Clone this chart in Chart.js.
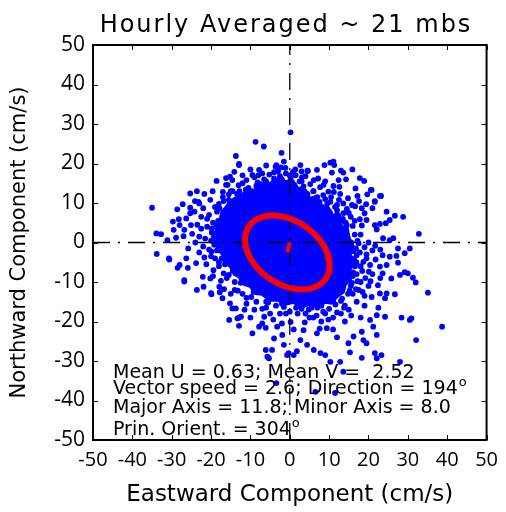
<!DOCTYPE html>
<html lang="en">
<head>
<meta charset="UTF-8">
<title>Hourly Averaged ~ 21 mbs</title>
<script src="https://cdn.jsdelivr.net/npm/chart.js"></script>
<style>
  body { margin: 0; background: #fff; }
</style>
</head>
<body>
<canvas id="scatter" width="506" height="512"></canvas>
<script>
// hourly current components (cm/s): eastward u, northward v
const eastU = [
  // upper left
  -13.7,-12.9,-14.1,-16.2,-15.2,-18.6,-16.2,-19.6,-23.6,-25.3,-35.0,-28.6,-27.2,-24.1,-23.2,-25.3,-22.0,-25.3,-28.2,-29.7,
  -28.0,-29.5,-26.8,-33.9,-32.7,-31.1,-28.9,-27.0,-33.8,-30.7,-26.3,-28.0,-21.7,-19.9,-26.3,-25.1,-24.2,-23.0,-21.7,-14.6,
  -15.8,-9.5,-7.8,-3.6,
  // top
  0.2,-8.7,-6.6,-2.1,-12.9,-3.4,-2.3,2.7,8.8,10.3,11.3,10.7,13.0,6.9,4.5,1.4,0.8,3.1,6.1,8.6,
  11.1,12.6,9.8,12.8,7.6,10.3,13.6,12.0,13.6,-1.1,11.1,4.6,
  // right
  15.9,13.6,14.3,17.8,18.9,20.8,19.7,23.2,17.2,17.6,19.4,21.6,16.6,18.3,21.0,24.6,26.7,28.8,25.4,24.4,
  22.9,14.5,17.8,19.5,21.6,22.1,32.8,26.3,25.4,23.7,30.5,29.2,27.5,27.1,25.4,23.6,27.5,24.6,22.9,19.5,
  20.4,18.7,17.0,15.7,22.9,20.6,21.6,18.0,20.0,19.0,21.0,
  // lower right
  35.1,38.7,32.1,28.4,30.5,30.9,30.0,31.3,32.0,29.2,28.0,25.8,24.6,26.7,22.9,24.2,22.5,24.2,22.1,20.4,
  21.2,22.1,18.7,19.5,18.3,16.2,14.9,15.3,18.3,21.6,23.3,22.1,28.0,17.0,18.0,20.0,16.0,17.0,19.0,15.0,
  13.0,11.0,18.0,14.0,21.0,23.0,19.0,
  // bottom
  3.5,6.9,9.4,-3.2,0.2,-1.9,-4.0,-7.0,-7.8,-9.5,2.7,4.4,-1.5,6.0,8.0,11.0,12.0,-5.0,-9.0,-10.0,
  2.0,5.0,6.1,7.8,9.0,10.3,12.8,-0.7,1.0,1.8,-6.1,-5.7,-5.3,6.5,-3.4,11.5,13.6,-0.3,-4.5,-6.1,
  // lower left
  -12.9,-13.7,-28.5,-25.9,-26.8,-23.6,-21.9,-19.9,-22.1,-20.2,-19.4,-17.5,-17.9,-16.7,-17.1,-15.2,-14.6,-15.4,-13.3,-12.9,
  -12.4,-30.6,-26.8,-20.0,
  // edge of the dense centre
  -22.0,-23.0,-22.5,-21.0,-19.0,-17.0,-15.0,-12.0,-8.0,-4.0,0.0,3.0,6.0,9.0,12.0,15.0,16.5,18.0,17.5,14.0,
  9.0,4.0,-1.0,-6.0,-11.0,-14.0,-16.0,-18.0,-20.0,
  -13.0,-11.0,-10.5,-9.0,-8.2,-7.0,-6.5,-5.2,-4.0,-3.0,-2.5,-1.0,0.2,1.5,2.5,3.5,4.0,5.2,-12.0,-10.0,
  -6.0,-1.5,3.0,-14.5,-12.8,
  6.0,7.0,5.8,8.5,9.5,10.5,11.5,12.5,8.2,10.0,12.0,13.5,14.5,15.5,14.2,16.0,16.5,15.8,14.8,11.2,
  9.0,7.2,12.4,16.7,19.0,17.2,18.3,7.7,4.5,
  16.8,17.5,16.3,17.8,16.6,18.4,16.0,17.2,15.5,16.8,19.2,20.1,19.5,21.8,20.5,14.8,18.5,20.8,22.4,23.6,
  21.7,23.0,
  13.0,11.6,13.8,10.0,12.0,8.5,7.0,6.8,4.8,3.0,3.8,1.6,0.0,-1.5,-2.5,-3.5,-4.2,-6.0,-7.0,-6.5,
  -8.5,-9.8,-11.0,-12.0,-11.5,1.0,-2.0,9.8,15.6,7.6,
  -14.0,-15.5,-16.8,-16.5,-18.0,-19.0,-18.5,-20.5,-20.0,-21.5,-19.8,-21.0,-19.5,-20.5,-18.5,-18.0,-16.8,-17.0,-15.5,-20.2,
  -22.5,-23.5,-24.0,-23.0,-21.2,-19.5,-15.0,-13.2,-17.8,-23.8,-25.8,-24.8,
  15.2,13.3,11.0,8.0,5.5,2.0,-2.0,-5.5,-9.2,-12.5,-14.5,-17.3,-19.2,-19.8,-18.2,-17.8,-15.5,-13.4,-11.2,14.1,
  15.6,16.2,16.9,16.1,15.8,12.8,10.2,7.2,4.2,1.2,-2.0,-6.0,-8.5
];
const northV = [
  21.9,19.6,17.9,16.3,16.7,15.6,14.6,13.0,13.0,12.4,8.8,8.4,9.7,10.5,10.3,8.8,8.7,7.4,5.9,5.3,
  4.4,3.2,3.2,2.3,2.1,0.6,1.2,1.6,-2.9,-4.0,-4.0,-5.7,-3.8,-2.3,6.1,4.4,7.8,9.9,12.3,15.8,
  14.6,17.1,18.4,19.2,
  27.9,25.5,24.3,22.7,19.9,19.6,19.0,19.6,19.6,20.2,19.6,17.7,18.2,18.4,18.2,18.5,17.9,16.5,15.8,14.6,
  14.3,14.1,12.9,12.3,10.3,10.3,9.9,8.2,7.4,18.9,20.5,18.1,
  18.5,17.7,16.0,16.3,15.6,13.3,12.2,11.8,11.8,10.5,9.7,10.5,9.2,8.7,8.7,7.8,6.8,6.5,5.7,4.9,
  4.7,4.4,5.9,5.7,4.4,3.3,2.2,1.1,0.6,1.1,-1.5,-2.7,-1.5,-3.4,-3.6,-3.2,-5.1,-5.7,-6.1,-4.0,
  -5.7,-4.9,-3.2,-4.0,11.8,13.3,10.3,2.0,0.0,-1.2,-2.0,
  -12.7,-21.3,-24.7,-19.0,-19.6,-19.2,-7.8,-8.9,-10.1,-7.5,-8.2,-9.1,-12.9,-13.1,-12.9,-14.1,-16.5,-18.8,-18.4,-19.6,
  -21.3,-23.4,-24.7,-25.5,-22.6,-23.8,-25.5,-27.8,-29.2,-28.0,-28.5,-29.3,-30.2,-8.0,-10.0,-11.0,-13.0,-15.0,-16.0,-17.0,
  -18.0,-19.0,-19.0,-20.0,-8.0,-9.0,-13.5,
  -22.2,-23.0,-21.7,-21.3,-20.1,-23.4,-24.3,-20.5,-21.3,-23.0,-24.7,-25.9,-25.9,-19.0,-20.0,-22.0,-24.0,-18.0,-17.0,-19.0,
  -18.0,-19.0,-27.2,-28.0,-28.5,-30.2,-30.2,-28.5,-28.5,-27.5,-27.2,-28.9,-29.3,-37.8,-35.6,-38.1,-32.7,-28.0,-27.2,-21.6,
  -19.0,-16.7,-6.4,-6.4,-9.5,-12.0,-11.2,-13.1,-8.7,-9.1,-7.0,-9.7,-11.2,-11.8,-14.1,-15.4,-16.7,-19.6,-19.2,-21.1,
  -18.8,-4.3,-9.9,-12.8,
  -1.0,1.5,3.5,6.0,9.0,11.5,13.0,15.0,17.0,17.8,17.0,15.5,13.0,11.0,9.5,7.5,5.5,-6.0,-12.0,-16.0,
  -18.0,-18.0,-18.0,-16.5,-14.0,-12.0,-9.0,-6.0,-3.5,
  14.5,15.8,13.8,16.5,15.2,17.5,16.0,17.2,16.2,18.0,16.8,17.5,16.5,17.0,15.5,14.2,16.8,14.8,17.0,18.5,
  19.5,20.5,18.0,13.0,13.0,
  13.0,11.5,10.5,12.0,9.8,11.5,9.0,10.8,9.0,7.8,7.2,6.0,8.5,6.5,5.0,4.2,2.0,9.5,11.2,12.8,
  15.5,16.2,15.8,13.7,7.4,0.4,4.3,14.0,12.2,
  -1.5,-0.2,-4.2,-2.5,-6.0,-7.2,-8.5,-9.8,-11.0,-11.8,-9.0,-7.4,-3.0,-4.3,-9.8,-13.0,-12.5,-13.8,-10.8,-7.8,
  -0.8,-1.8,
  -14.8,-15.7,-16.5,-16.8,-17.7,-17.5,-16.5,-18.5,-17.0,-16.8,-20.2,-16.5,-17.5,-16.3,-18.0,-16.0,-19.5,-15.0,-16.8,-18.8,
  -15.0,-13.8,-15.5,-13.0,-17.0,-22.0,-20.5,-19.5,-18.5,-21.8,
  -10.0,-8.2,-7.8,-5.5,-5.0,-4.0,-2.0,-1.8,0.5,1.0,2.5,4.0,5.0,7.0,7.8,9.8,10.5,12.8,12.2,10.8,
  6.5,4.5,0.0,-2.5,-5.5,-8.5,-13.0,-12.2,-12.6,-5.2,-1.5,2.2,
  -12.2,-14.2,-14.8,-16.0,-16.5,-16.0,-15.5,-15.2,-12.5,-10.2,-7.2,-4.0,-0.6,3.5,5.5,8.6,10.8,12.3,13.4,2.5,
  0.0,-2.2,-5.0,-7.6,-10.2,5.2,7.5,9.8,12.5,14.5,16.0,15.5,14.3
];

// ragged outline of the solid centre of the cloud, where the dots merge
const coreU = [-12, -10.5, -9, -7.5, -5, -3.5, -1, 0.5, 2, 3.5, 5, 6.5, 8, 9.5, 11, 12.5, 13, 14.5, 15, 16,
  15.2, 16, 15, 15.3, 14, 13.5, 12, 10.5, 9, 7, 5, 3, 1, -1, -3, -5, -7, -8.5, -10, -11.5,
  -13, -14, -15, -16.5, -17, -18.2, -18.5, -19.5, -18.5, -18.8, -17.5, -17.2, -16, -15.2, -14, -12];
const coreV = [12, 13.5, 13, 15, 14.8, 16, 15.2, 15.8, 13.5, 13.8, 11, 11.5, 8.5, 9, 6.5, 6.8, 4, 3.5, 1, -1,
  -3, -5.5, -7, -9.5, -10.5, -12.5, -13.5, -15.2, -15, -16.2, -15.5, -16.3, -15, -15.5, -14.5, -14.5, -13, -12.8, -11, -10.5,
  -8.5, -8, -6, -5, -3, -1.5, 0, 1.5, 3, 4.5, 6, 7.5, 9, 10.2, 11, 12];

// record statistics
const meanU = -0.63;
const meanV = -2.52;
const majorAxis = 11.8;
const minorAxis = 8.0;
const prinOrient = 304;   // degrees clockwise from north

const tickValues = [-50, -40, -30, -20, -10, 0, 10, 20, 30, 40, 50];

const titleText = 'Hourly Averaged ~ 21 mbs';
const statLines = [
  ['Mean U = 0.63; Mean V =  2.52', ''],
  ['Vector speed = 2.6; Direction = 194', 'o'],
  ['Major Axis = 11.8; Minor Axis = 8.0', ''],
  ['Prin. Orient. = 304', 'o']
];

// variance ellipse around the mean
const theta = (90 - prinOrient) * Math.PI / 180;
const ellipse = [];
for (let deg = 0; deg <= 360; deg += 4) {
  const t = deg * Math.PI / 180;
  const a = majorAxis * Math.cos(t), b = minorAxis * Math.sin(t);
  ellipse.push({
    x: meanU + a * Math.cos(theta) - b * Math.sin(theta),
    y: meanV + a * Math.sin(theta) + b * Math.cos(theta)
  });
}

const SANS = '"DejaVu Sans", sans-serif';
const TICKS = '"Open Sans", sans-serif';

const frame = {
  id: 'frame',
  afterDraw(chart) {
    const { ctx, chartArea: a, scales: { x, y } } = chart;
    ctx.save();
    ctx.strokeStyle = '#000';
    ctx.lineWidth = 2;
    ctx.strokeRect(a.left, a.top, a.width, a.height);

    // tick marks pointing into the plot on all four sides
    ctx.lineWidth = 1;
    ctx.beginPath();
    tickValues.forEach(v => {
      const px = Math.round(x.getPixelForValue(v)) + 0.5;
      const py = Math.round(y.getPixelForValue(v)) + 0.5;
      ctx.moveTo(px, a.bottom); ctx.lineTo(px, a.bottom - 5);
      ctx.moveTo(px, a.top); ctx.lineTo(px, a.top + 5);
      ctx.moveTo(a.left, py); ctx.lineTo(a.left + 5, py);
      ctx.moveTo(a.right, py); ctx.lineTo(a.right - 5, py);
    });
    ctx.stroke();

    ctx.fillStyle = '#000';
    ctx.textBaseline = 'alphabetic';
    ctx.textAlign = 'center';
    ctx.font = '24px ' + SANS;
    ctx.letterSpacing = '2px';
    ctx.fillText(titleText, 286, 32);
    ctx.letterSpacing = '0px';

    ctx.textAlign = 'left';
    const baselines = [378, 394, 413, 435];
    statLines.forEach(([main, sup], i) => {
      ctx.font = '19px ' + SANS;
      ctx.fillText(main, 113, baselines[i]);
      if (sup) {
        const w = ctx.measureText(main).width;
        ctx.font = '13px ' + SANS;
        ctx.fillText(sup, 113 + w + 1, baselines[i] - 8);
      }
    });
    ctx.restore();
  }
};

new Chart(document.getElementById('scatter'), {
  type: 'scatter',
  data: {
    datasets: [
      {
        label: 'core',
        data: coreU.map((u, i) => ({ x: u, y: coreV[i] })),
        showLine: true,
        fill: 'shape',
        backgroundColor: '#0000ff',
        borderColor: '#0000ff',
        borderWidth: 4,
        pointRadius: 0,
        order: 4
      },
      {
        label: 'hourly',
        data: eastU.map((u, i) => ({ x: u, y: northV[i] })),
        backgroundColor: '#0000ff',
        borderWidth: 0,
        pointRadius: 2.9,
        order: 3
      },
      {
        label: 'u = 0',
        data: [{ x: 0, y: -50 }, { x: 0, y: 50 }],
        showLine: true,
        borderColor: '#000',
        borderWidth: 1.3,
        borderDash: [17, 8, 2, 8],
        pointRadius: 0,
        order: 2
      },
      {
        label: 'v = 0',
        data: [{ x: -50, y: 0 }, { x: 50, y: 0 }],
        showLine: true,
        borderColor: '#000',
        borderWidth: 1.3,
        borderDash: [17, 8, 2, 8],
        pointRadius: 0,
        order: 2
      },
      {
        label: 'ellipse',
        data: ellipse,
        showLine: true,
        borderColor: '#ff0000',
        borderWidth: 6,
        pointRadius: 0,
        order: 1
      },
      {
        label: 'mean',
        data: [{ x: 0, y: 0 }, { x: meanU, y: meanV }],
        showLine: true,
        borderColor: '#ff0000',
        borderWidth: 4,
        pointRadius: 0,
        order: 0
      }
    ]
  },
  options: {
    responsive: false,
    animation: false,
    events: [],
    layout: { padding: { top: 45, right: 17, left: 0, bottom: 0 } },
    plugins: { legend: { display: false }, tooltip: { enabled: false } },
    scales: {
      x: {
        type: 'linear',
        min: -50, max: 50,
        ticks: { stepSize: 10, autoSkip: false, maxRotation: 0, padding: 8, color: '#000', font: { family: TICKS, size: 20 } },
        grid: { display: false, drawTicks: false },
        border: { display: false },
        title: { display: true, text: 'Eastward Component (cm/s)', color: '#000', font: { family: SANS, size: 23 }, padding: { top: 0, bottom: 3 } },
        afterFit(scale) { scale.height = 72; }
      },
      y: {
        type: 'linear',
        min: -50, max: 50,
        ticks: { stepSize: 10, autoSkip: false, padding: 8, color: '#000', font: { family: TICKS, size: 21 } },
        grid: { display: false, drawTicks: false },
        border: { display: false },
        title: { display: true, text: 'Northward Component (cm/s)', color: '#000', font: { family: SANS, size: 21 }, padding: { top: 7, bottom: 0 } },
        afterFit(scale) { scale.width = 93; }
      }
    }
  },
  plugins: [frame]
});
</script>
</body>
</html>
